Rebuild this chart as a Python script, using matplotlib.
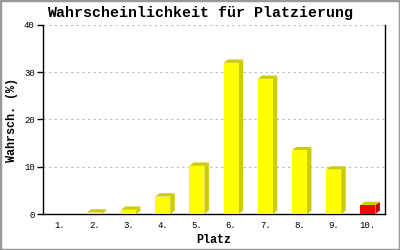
import matplotlib
matplotlib.use("Agg")
import matplotlib.pyplot as plt
from matplotlib.patches import Polygon, Rectangle

places = ["1.", "2.", "3.", "4.", "5.", "6.", "7.", "8.", "9.", "10."]
probs = [0.0, 0.3, 0.9, 3.7, 10.2, 32.0, 28.6, 13.5, 9.4, 1.9]
front_colors = ["#FFFF00"] * 9 + ["#FF0000"]
side_colors = ["#CCCC00"] * 9 + ["#CC0000"]
top_colors = ["#CCCC00"] * 10

mono = "Liberation Mono"

fig = plt.figure(figsize=(4, 2.5), dpi=100)
fig.patches.append(Rectangle((0, 0), 1, 1, transform=fig.transFigure,
                             fill=False, edgecolor="#999999", linewidth=2.5))
ax = fig.add_axes([0.1075, 0.144, 0.855, 0.756])

x = list(range(1, len(places) + 1))
w = 0.44
dx, dy = 0.13, 0.7

for xi, v, fc, sc, tc in zip(x, probs, front_colors, side_colors, top_colors):
    if v <= 0:
        continue
    l, r = xi - w / 2, xi + w / 2
    ax.add_patch(Polygon([(r, 0), (r + dx, dy), (r + dx, v + dy), (r, v)],
                         closed=True, facecolor=sc, edgecolor="none", zorder=3))
    ax.add_patch(Polygon([(l, v), (l + dx, v + dy), (r + dx, v + dy), (r, v)],
                         closed=True, facecolor=tc, edgecolor="none", zorder=3))
ax.bar(x, probs, width=w, color=front_colors, zorder=4)

ax.set_xlim(0.5, 10.5)
ax.set_ylim(0, 40)
ax.set_yticks([0, 10, 20, 30, 40])
ax.set_xticks(x)
ax.set_xticklabels(places, fontfamily=mono, fontsize=6.5)
ax.tick_params(axis="x", length=0, pad=5)
ax.tick_params(axis="y", length=4, width=1, pad=2, labelsize=6.5)
for lab in ax.get_yticklabels():
    lab.set_fontfamily(mono)
ax.yaxis.grid(True, linestyle=(0, (2, 3)), color="#bbbbbb", linewidth=0.8, zorder=0)
ax.set_axisbelow(True)

ax.spines["top"].set_visible(False)
for s in ["left", "bottom", "right"]:
    ax.spines[s].set_linewidth(1)

fig.text(0.5, 0.948, "Wahrscheinlichkeit für Platzierung", fontfamily=mono,
         fontweight="bold", fontsize=10.8, ha="center", va="center")
ax.set_xlabel("Platz", fontfamily=mono, fontweight="bold", fontsize=8.5, labelpad=3)
ax.set_ylabel("Wahrsch. (%)", fontfamily=mono, fontweight="bold", fontsize=8.5, labelpad=4)

fig.savefig("out.png", dpi=100)
